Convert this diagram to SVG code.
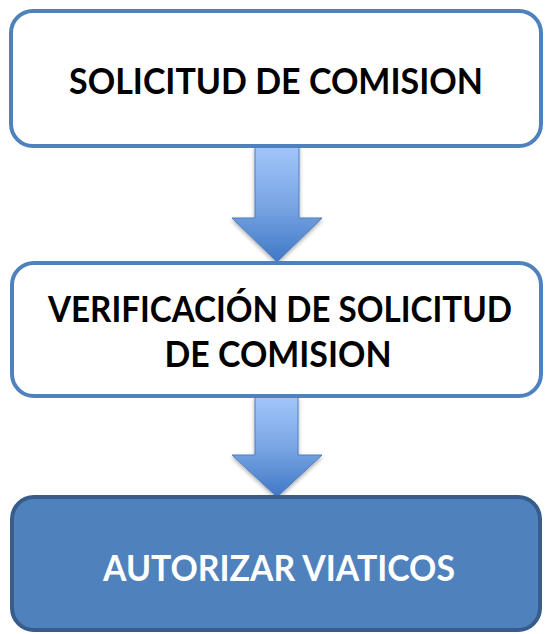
<svg xmlns="http://www.w3.org/2000/svg" width="545" height="634" viewBox="0 0 545 634">
  <defs>
    <linearGradient id="arrowGrad" x1="0" y1="0" x2="0" y2="1">
      <stop offset="0" stop-color="#a3c6fb"/>
      <stop offset="0.5" stop-color="#7aa6e4"/>
      <stop offset="1" stop-color="#3f78c6"/>
    </linearGradient>
    <filter id="shadow" x="-20%" y="-20%" width="140%" height="150%">
      <feGaussianBlur in="SourceAlpha" stdDeviation="2"/>
      <feOffset dx="0" dy="2" result="b"/>
      <feComponentTransfer><feFuncA type="linear" slope="0.35"/></feComponentTransfer>
      <feMerge><feMergeNode/><feMergeNode in="SourceGraphic"/></feMerge>
    </filter>
    <style>
      .box { fill: #ffffff; stroke: #4f81bd; stroke-width: 4; }
      .boxDark { fill: #4f81bd; stroke: #385d8a; stroke-width: 4; }
      .label { font-family: Lato, "Open Sans", "Liberation Sans", sans-serif; font-weight: bold; font-size: 37px; text-anchor: middle; fill: #000000; }
      .labelW { fill: #ffffff; }
      .arrow { fill: url(#arrowGrad); stroke: #4f7fc0; stroke-width: 1; }
    </style>
  </defs>

  <g id="connectors">
    <path class="arrow" filter="url(#shadow)" d="M255,146 L299,146 L299,218 L322,218 L277,262 L232,218 L255,218 Z"/>
    <path class="arrow" filter="url(#shadow)" d="M255,397 L298,397 L298,455 L322,455 L277,497 L232,455 L255,455 Z"/>
  </g>

  <g id="node-solicitud">
    <rect class="box" x="11" y="11" width="530" height="135" rx="22"/>
    <text class="label" x="276" y="94" textLength="414" lengthAdjust="spacingAndGlyphs">SOLICITUD DE COMISION</text>
  </g>

  <g id="node-verificacion">
    <rect class="box" x="12" y="263" width="529" height="133" rx="22"/>
    <text class="label" x="280" y="322" font-size="36" textLength="464" lengthAdjust="spacingAndGlyphs">VERIFICACIÓN DE SOLICITUD</text>
    <text class="label" x="278" y="367" textLength="227" lengthAdjust="spacingAndGlyphs">DE COMISION</text>
  </g>

  <g id="node-autorizar">
    <rect class="boxDark" x="12" y="497" width="528" height="133" rx="22"/>
    <text class="label labelW" x="279" y="581" textLength="352" lengthAdjust="spacingAndGlyphs">AUTORIZAR VIATICOS</text>
  </g>
</svg>
